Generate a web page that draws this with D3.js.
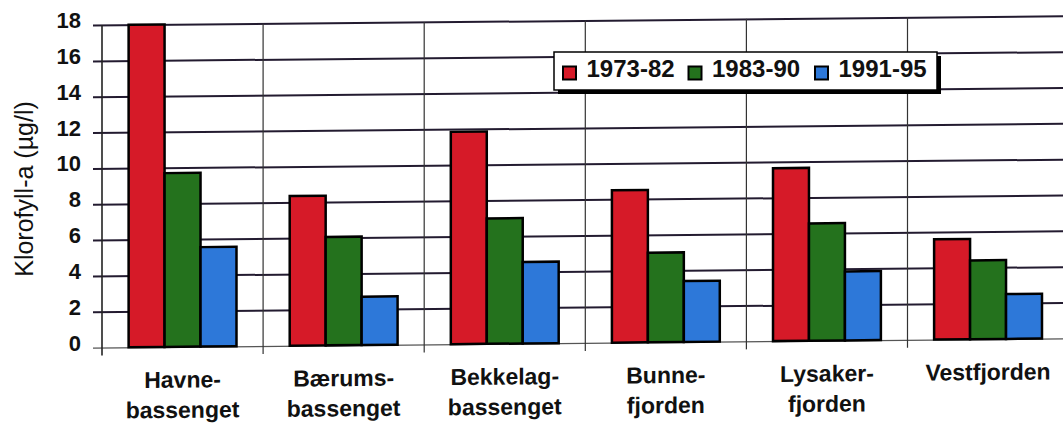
<!DOCTYPE html>
<html>
<head>
<meta charset="utf-8">
<script src="https://cdn.jsdelivr.net/npm/d3@7"></script>
<style>
  body { margin: 0; background: #fff; }
  svg { display: block; }
</style>
</head>
<body>
<svg id="chart" width="1063" height="425"></svg>
<script>
// Klorofyll-a per basin, three periods
const categories = ["Havne-\nbassenget", "Bærums-\nbassenget", "Bekkelag-\nbassenget", "Bunne-\nfjorden", "Lysaker-\nfjorden", "Vestfjorden"];
const series = ["1973-82", "1983-90", "1991-95"];
const values7382 = [18, 8.35, 11.85, 8.5, 9.65, 5.6];
const values8390 = [9.7, 6.05, 7.0, 5.0, 6.55, 4.4];
const values9195 = [5.55, 2.7, 4.55, 3.4, 3.85, 2.5];
const yTicks = [0, 2, 4, 6, 8, 10, 12, 14, 16, 18];
const yTitle = "Klorofyll-a (µg/l)";

const seriesValues = [values7382, values8390, values9195];
const colors = ["#d61a28", "#24721d", "#2d78d9"];
const font = "'Liberation Sans', Arial, sans-serif";

const svg = d3.select("#chart");
svg.append("rect").attr("width", 1063).attr("height", 425).attr("fill", "#fff");

const plotLeft = 102, plotTop = 25, plotBottom = 347.5, catW = 161.1;
const x = d3.scaleBand().domain(categories).range([plotLeft, plotLeft + catW * categories.length]).padding(0);
const xs = d3.scaleBand().domain(series).range([0, x.bandwidth()]).paddingInner(0).paddingOuter(0.74);
const y = d3.scaleLinear().domain([0, 18]).range([plotBottom, plotTop]);
const plotRight = x.range()[1];

// the printed plot runs slightly uphill to the right
const skew = 0.545;
const k = plotLeft * Math.tan(skew * Math.PI / 180);
const plot = svg.append("g").attr("transform", `translate(0,${k}) skewY(${-skew})`);

// horizontal grid lines with outside ticks
plot.append("g")
  .attr("transform", `translate(${plotLeft - 9},0)`)
  .call(d3.axisRight(y).tickValues(yTicks).tickSize(plotRight - plotLeft + 9).tickFormat(""))
  .call(g => g.select(".domain").remove())
  .call(g => g.selectAll(".tick line")
    .attr("stroke", d => d === 0 ? "#555" : "#231b30")
    .attr("stroke-width", d => d === 0 ? 1.2 : 2));

// vertical grid lines between categories, extending below the base as ticks
const bounds = categories.slice(1).map(c => x(c));
plot.append("g").selectAll("line").data(bounds).join("line")
  .attr("x1", d => d).attr("x2", d => d)
  .attr("y1", plotTop).attr("y2", plotBottom + 8)
  .attr("stroke", "#333").attr("stroke-width", 1.2);
plot.append("line")
  .attr("x1", plotLeft).attr("x2", plotLeft).attr("y1", plotTop).attr("y2", plotBottom + 8)
  .attr("stroke", "#222").attr("stroke-width", 1.6);

// bars
const groups = plot.append("g").selectAll("g").data(categories).join("g")
  .attr("transform", d => `translate(${x(d)},0)`);
groups.selectAll("rect")
  .data((c, i) => series.map((s, j) => ({ s, j, v: seriesValues[j][i] })))
  .join("rect")
  .attr("x", d => xs(d.s))
  .attr("width", xs.bandwidth())
  .attr("y", d => y(d.v))
  .attr("height", d => y(0) - y(d.v))
  .attr("fill", d => colors[d.j])
  .attr("stroke", "#000")
  .attr("stroke-width", 2.5);

// category labels
const labels = plot.append("g").selectAll("text").data(categories).join("text")
  .attr("x", d => x(d) + x.bandwidth() / 2)
  .attr("y", 388.4)
  .attr("text-anchor", "middle")
  .attr("font-family", font).attr("font-weight", "bold").attr("font-size", 23)
  .attr("fill", "#111");
labels.selectAll("tspan").data(d => d.split("\n")).join("tspan")
  .attr("x", function () { return d3.select(this.parentNode).attr("x"); })
  .attr("dy", (d, i) => i === 0 ? 0 : 30.2)
  .text(d => d);

// y tick labels
svg.append("g").selectAll("text").data(yTicks).join("text")
  .attr("x", 81).attr("y", d => y(d))
  .attr("dy", "0.14em")
  .attr("text-anchor", "end")
  .attr("font-family", font).attr("font-weight", "bold").attr("font-size", 22)
  .attr("fill", "#111")
  .text(d => d);

// y axis title
svg.append("text")
  .attr("transform", "translate(33,189) rotate(-90)")
  .attr("text-anchor", "middle")
  .attr("font-family", font).attr("font-size", 25)
  .attr("fill", "#111")
  .text(yTitle);

// legend
const lg = svg.append("g");
lg.append("rect").attr("x", 558).attr("y", 56).attr("width", 383).attr("height", 38).attr("fill", "#000");
lg.append("rect").attr("x", 554).attr("y", 52).attr("width", 383).attr("height", 38)
  .attr("fill", "#fff").attr("stroke", "#000").attr("stroke-width", 1.5);
const itemX = [563, 688.5, 815];
const items = lg.selectAll("g.item").data(series).join("g").attr("class", "item")
  .attr("transform", (d, i) => `translate(${itemX[i]},0)`);
items.append("rect").attr("x", 0).attr("y", 66.5).attr("width", 13).attr("height", 13)
  .attr("fill", (d, i) => colors[i]).attr("stroke", "#000").attr("stroke-width", 2);
items.append("text").attr("x", 23.5).attr("y", 76.5)
  .attr("font-family", font).attr("font-weight", "bold").attr("font-size", 24)
  .attr("fill", "#111")
  .text(d => d);
</script>
</body>
</html>
